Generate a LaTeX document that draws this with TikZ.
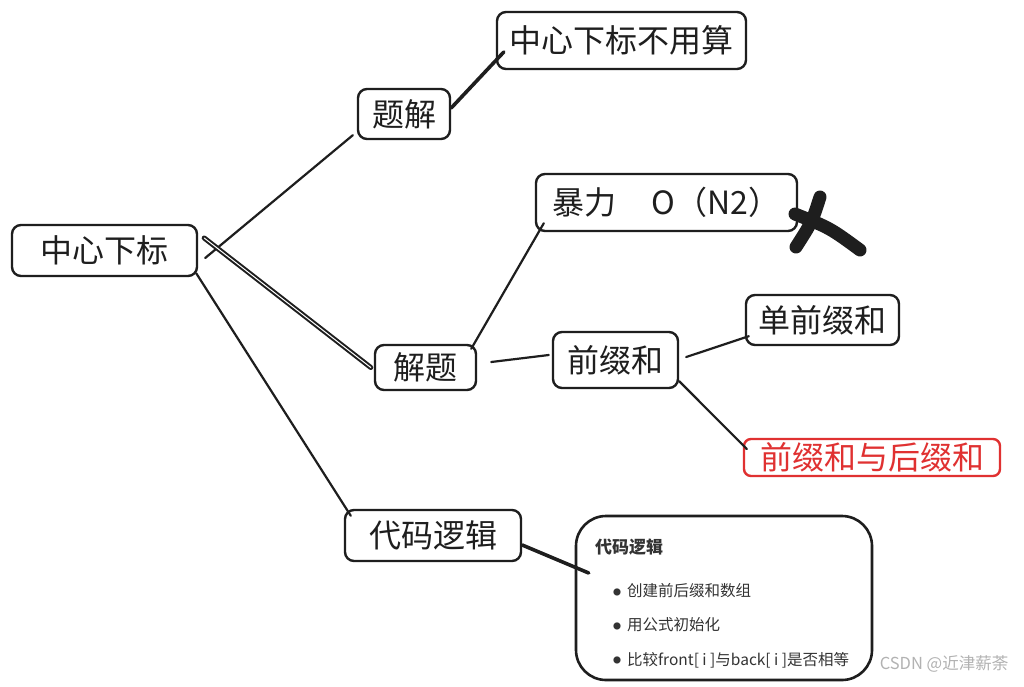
\documentclass[tikz,border=0pt]{standalone}
\usepackage{fontspec}
\setmainfont{Noto Sans CJK SC}
\definecolor{ink}{HTML}{1E1E1E}
\definecolor{redink}{HTML}{E03131}
\definecolor{notetxt}{HTML}{333333}
\newcommand{\blt}{{\fontsize{8}{10}\selectfont\raisebox{1.5pt}{●}}\hspace{6pt}}
\begin{document}
\begin{tikzpicture}[x=1pt,y=-1pt,
  box/.style={draw=ink,line width=2.4pt,rounded corners=9pt,inner sep=0pt,text=ink,font=\fontsize{32}{36}\selectfont},
  redbox/.style={draw=redink,line width=2.4pt,rounded corners=7pt,inner sep=0pt,text=redink,font=\fontsize{32}{36}\selectfont},
  notebox/.style={draw=ink,line width=2.6pt,rounded corners=30pt,inner sep=0pt},
  conn/.style={draw=ink,line width=2.2pt,line cap=round},
  thickconn/.style={draw=ink,line width=3.6pt,line cap=round},
  dbl/.style={draw=ink,double=white,double distance=1pt,line width=2pt,line cap=round},
  notetitle/.style={anchor=west,inner sep=0pt,text=notetxt,font=\fontsize{17}{20}\selectfont\bfseries},
  noteitem/.style={anchor=west,inner sep=0pt,text=notetxt,font=\fontsize{15.5}{18}\selectfont},
  xstroke/.style={draw=ink,line width=13pt,line cap=round}
]
\useasboundingbox[fill=white] (0,0) rectangle (1024,686);

\node[box,minimum width=185pt,minimum height=51pt] (root) at (104.5,250.5) {中心下标};
\node[box,minimum width=92pt,minimum height=50pt] (tj) at (404,114) {题解};
\node[box,minimum width=249pt,minimum height=57pt] (bys) at (621.5,40.5) {中心下标不用算\hspace{12pt}};
\node[box,minimum width=261pt,minimum height=57pt] (bl) at (666.5,202.5) {暴力\hspace{1.1em}O（N2）};
\node[box,minimum width=101pt,minimum height=45pt] (jt) at (425.5,367.5) {解题};
\node[box,minimum width=125pt,minimum height=56pt] (qz) at (615.5,360) {前缀和};
\node[box,minimum width=153pt,minimum height=50pt] (dq) at (822.5,320) {单前缀和};
\node[redbox,minimum width=256pt,minimum height=37pt] (qh) at (872,457.5) {前缀和与后缀和};
\node[box,minimum width=176pt,minimum height=51pt] (dm) at (433,535.5) {代码逻辑};
\node[notebox,minimum width=296pt,minimum height=164pt] (note) at (724,598) {};

\node[notetitle] (nt) at (595,547) {代码逻辑};
\node[noteitem] (n1) at (613,591) {\blt 创建前后缀和数组};
\node[noteitem] (n2) at (613,625) {\blt 用公式初始化};
\node[noteitem] (n3) at (613,660) {\blt 比较front[ i ]与back[ i ]是否相等};

\draw[conn] ([shift={(7,7.5)}]root.east) -- ([shift={(-4,-5)}]tj.south west);
\draw[dbl] ([shift={(6,-12.5)}]root.east) -- ([shift={(-3,0)}]jt.west);
\draw[conn] ([shift={(-2,-4)}]root.south east) -- ([shift={(7,7)}]dm.north west);
\draw[thickconn] ([shift={(0,-6)}]tj.east) -- ([shift={(8,11.5)}]bys.west);
\draw[conn] ([shift={(-6,5)}]jt.north east) -- ([shift={(9,-9)}]bl.south west);
\draw[conn] ([shift={(14,-5.5)}]jt.east) -- ([shift={(-3,-5)}]qz.west);
\draw[conn] ([shift={(7,-3)}]qz.east) -- ([shift={(4,-10)}]dq.south west);
\draw[conn] ([shift={(0,-8)}]qz.south east) -- ([shift={(4,-8.5)}]qh.west);
\draw[thickconn] ([shift={(0,9.5)}]dm.east) -- ([shift={(14,-25)}]note.west);

\draw[xstroke] (795,214) .. controls (830,228) .. (860,250);
\draw[xstroke] (820,197) .. controls (812,222) .. (796,247);

\node[inner sep=0pt,text=black!30,font=\fontsize{16.5}{19}\selectfont] (wm) at (944,664) {CSDN @近津薪荼};
\end{tikzpicture}
\end{document}
